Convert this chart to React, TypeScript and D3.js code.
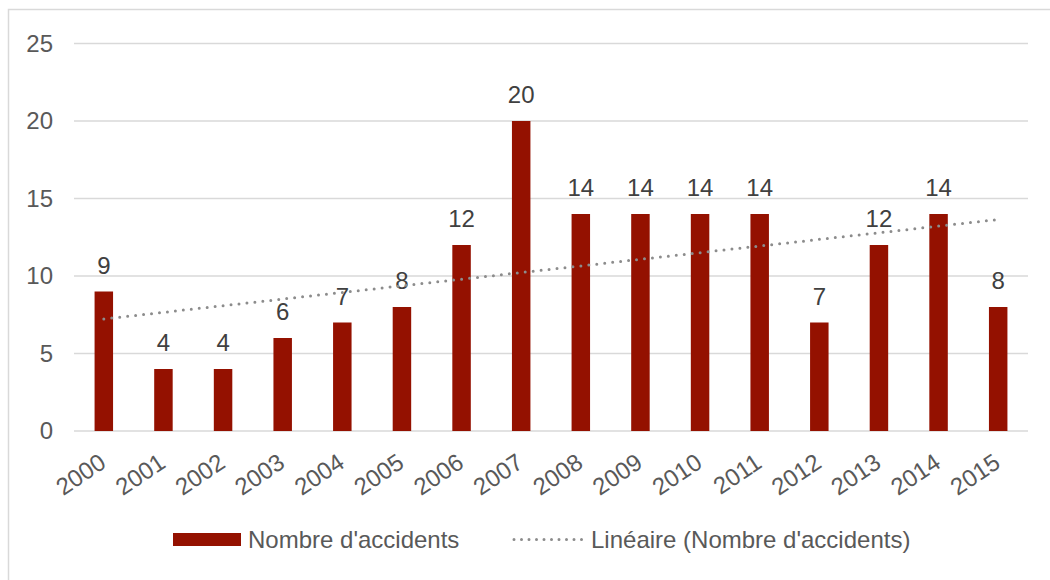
import React from "react";
import * as d3 from "d3";

const years = ["2000","2001","2002","2003","2004","2005","2006","2007","2008","2009","2010","2011","2012","2013","2014","2015"];
const accidents = [9, 4, 4, 6, 7, 8, 12, 20, 14, 14, 14, 14, 7, 12, 14, 8];
const yTicks = [0, 5, 10, 15, 20, 25];
const seriesName = "Nombre d'accidents";
const trendName = "Linéaire (Nombre d'accidents)";

const W = 1050, H = 580;
const left = 74, right = 1028, top = 43.5, bottom = 431;
const font = "'Liberation Sans', Arial, sans-serif";
const fs = 24;

export default function App() {
  const x = d3.scaleBand<string>().domain(years).range([left, right]).paddingInner(0.69).paddingOuter(0.345);
  const y = d3.scaleLinear().domain([0, 25]).range([bottom, top]);

  // Linear least-squares trend line over category index
  const mx = d3.mean(accidents.map((_, i) => i)) as number;
  const my = d3.mean(accidents) as number;
  const sxy = d3.sum(accidents.map((v, i) => (i - mx) * (v - my)));
  const sxx = d3.sum(accidents.map((_, i) => (i - mx) * (i - mx)));
  const slope = sxy / sxx;
  const icpt = my - slope * mx;
  const trend = years.map((yr, i) => [x(yr)! + x.bandwidth() / 2, y(icpt + slope * i)] as [number, number]);
  const line = d3.line();

  return (
    <svg width={W} height={H} style={{ position: "absolute", left: 0, top: 0, background: "#fff" }}>
      <rect x={8.5} y={9.5} width={1100} height={700} fill="#fff" stroke="#d9d9d9" strokeWidth={1.5} />
      {yTicks.map(t => (
        <g key={t}>
          <line x1={left} x2={right} y1={y(t)} y2={y(t)} stroke="#d9d9d9" strokeWidth={1.5} />
          <text x={53} y={y(t)} dy="0.35em" textAnchor="end" fontFamily={font} fontSize={fs} fill="#595959">{t}</text>
        </g>
      ))}
      {years.map((yr, i) => (
        <g key={yr}>
          <rect x={x(yr)} y={y(accidents[i])} width={x.bandwidth()} height={bottom - y(accidents[i])} fill="#941100" />
          <text x={x(yr)! + x.bandwidth() / 2} y={y(accidents[i]) - 18} textAnchor="middle" fontFamily={font} fontSize={fs} fill="#404040">{accidents[i]}</text>
          <text transform={`translate(${x(yr)! + x.bandwidth() / 2 - 6},${bottom + 21}) rotate(-34)`} dy="0.72em" textAnchor="end" fontFamily={font} fontSize={fs} fill="#595959">{yr}</text>
        </g>
      ))}
      <path d={line(trend) || ""} fill="none" stroke="#8c8c8c" strokeWidth={3} strokeDasharray="0 8" strokeLinecap="round" />
      <rect x={173} y={533} width={68} height={13} fill="#941100" />
      <text x={248} y={540} dy="0.35em" fontFamily={font} fontSize={fs} fill="#595959">{seriesName}</text>
      <line x1={514} x2={582} y1={539.5} y2={539.5} stroke="#8c8c8c" strokeWidth={3} strokeDasharray="0 7.5" strokeLinecap="round" />
      <text x={591} y={540} dy="0.35em" fontFamily={font} fontSize={fs} fill="#595959">{trendName}</text>
    </svg>
  );
}
